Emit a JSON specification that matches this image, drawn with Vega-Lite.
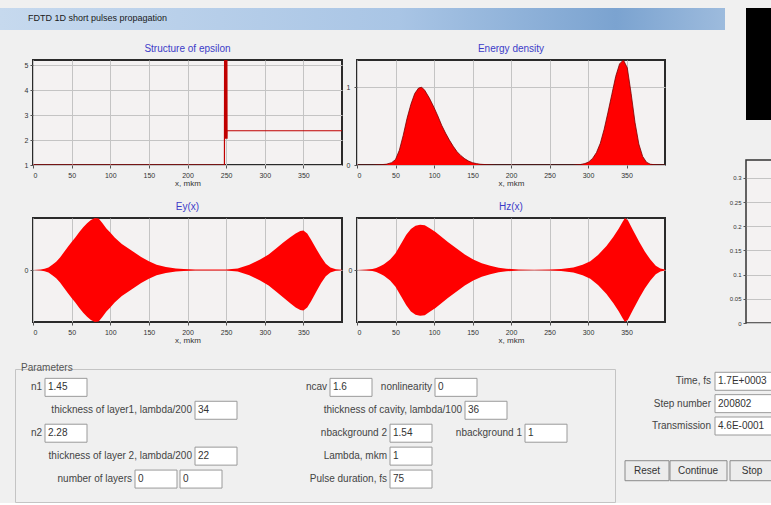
{
  "$schema": "https://vega.github.io/schema/vega-lite/v6.json",
  "background": "#f0f0f0",
  "padding": {"top": 8, "left": 0, "right": 0, "bottom": 0},
  "config": {
    "font": "Liberation Sans",
    "view": {"stroke": "#2a2a2a", "strokeWidth": 2, "fill": "#f4f2f2"},
    "axis": {"grid": true, "gridColor": "#c4c4c4", "gridWidth": 1, "domain": false, "tickColor": "#555555", "tickSize": 3, "labelFontSize": 7, "labelColor": "#333333", "labelPadding": 2, "titleFontSize": 8, "titleFontWeight": "normal", "titleColor": "#333333", "titlePadding": 1},
    "axisX": {"labelPadding": 3},
    "title": {"fontSize": 10, "color": "#3c3cc8", "fontWeight": "normal", "offset": 6}
  },
  "vconcat": [
    {
      "hconcat": [
        {
          "vconcat": [
            {
              "width": 725, "height": 22,
              "view": {"stroke": null, "fill": null},
              "title": {"text": "FDTD 1D short pulses propagation", "anchor": "start", "frame": "group", "offset": -15, "dx": 28, "fontSize": 9, "color": "#1a1a1a"},
              "data": {"values": [{}]},
              "mark": {"type": "rect", "color": {"gradient": "linear", "x1": 0, "y1": 0, "x2": 1, "y2": 0, "stops": [{"offset": 0, "color": "#c6d9ee"}, {"offset": 0.55, "color": "#a9c5e5"}, {"offset": 0.85, "color": "#7ba3d0"}, {"offset": 1, "color": "#9dbbdd"}]}}
            },
            {
              "hconcat": [
                {"width": 18, "height": 105, "view": {"stroke": null, "fill": null}, "data": {"values": []}, "mark": "point"},
                {
                  "width": 309, "height": 105,
                  "title": "Structure of epsilon",
                  "data": {"values": [
                    {"x": 0, "eps": 1}, {"x": 247.8, "eps": 1}, {"x": 248, "eps": 5.2}, {"x": 248.5, "eps": 2.05}, {"x": 249, "eps": 5.2}, {"x": 249.5, "eps": 2.05}, {"x": 250, "eps": 5.2}, {"x": 250.5, "eps": 2.05}, {"x": 251, "eps": 5.2}, {"x": 251.2, "eps": 2.05}, {"x": 251.3, "eps": 2.37}, {"x": 400, "eps": 2.37}
                  ]},
                  "mark": {"type": "line", "color": "#c00000", "strokeWidth": 1.2, "clip": true},
                  "encoding": {
                    "x": {"field": "x", "type": "quantitative", "scale": {"domain": [0, 400], "nice": false}, "axis": {"values": [0, 50, 100, 150, 200, 250, 300, 350], "title": "x, mkm"}},
                    "y": {"field": "eps", "type": "quantitative", "scale": {"domain": [1, 5.2], "nice": false, "zero": false}, "axis": {"values": [1, 2, 3, 4, 5], "title": null}}
                  }
                },
                {
                  "width": 308, "height": 105,
                  "title": "Energy density",
                  "data": {"values": [
                    {"x": 0, "w": 0}, {"x": 20, "w": 0}, {"x": 30, "w": 0.003}, {"x": 38, "w": 0.01}, {"x": 45, "w": 0.03}, {"x": 50, "w": 0.07}, {"x": 55, "w": 0.19}, {"x": 60, "w": 0.38}, {"x": 65, "w": 0.6}, {"x": 70, "w": 0.78}, {"x": 75, "w": 0.92}, {"x": 80, "w": 0.99}, {"x": 84, "w": 1.0}, {"x": 88, "w": 0.96}, {"x": 94, "w": 0.86}, {"x": 100, "w": 0.74}, {"x": 105, "w": 0.63}, {"x": 110, "w": 0.51}, {"x": 115, "w": 0.41}, {"x": 120, "w": 0.32}, {"x": 125, "w": 0.24}, {"x": 130, "w": 0.17}, {"x": 135, "w": 0.12}, {"x": 140, "w": 0.08}, {"x": 145, "w": 0.05}, {"x": 150, "w": 0.03}, {"x": 155, "w": 0.018}, {"x": 160, "w": 0.01}, {"x": 170, "w": 0.003}, {"x": 180, "w": 0}, {"x": 280, "w": 0}, {"x": 290, "w": 0.006}, {"x": 296, "w": 0.018}, {"x": 301, "w": 0.04}, {"x": 306, "w": 0.085}, {"x": 311, "w": 0.16}, {"x": 316, "w": 0.28}, {"x": 321, "w": 0.46}, {"x": 326, "w": 0.68}, {"x": 331, "w": 0.91}, {"x": 336, "w": 1.14}, {"x": 341, "w": 1.3}, {"x": 346, "w": 1.35}, {"x": 351, "w": 1.25}, {"x": 356, "w": 0.92}, {"x": 361, "w": 0.55}, {"x": 366, "w": 0.27}, {"x": 371, "w": 0.11}, {"x": 376, "w": 0.035}, {"x": 381, "w": 0.01}, {"x": 388, "w": 0.002}, {"x": 400, "w": 0}
                  ]},
                  "mark": {"type": "area", "color": "#ff0000", "opacity": 1, "fillOpacity": 1, "line": {"color": "#7a0000", "strokeWidth": 0.8}, "clip": true},
                  "encoding": {
                    "x": {"field": "x", "type": "quantitative", "scale": {"domain": [0, 400], "nice": false}, "axis": {"values": [0, 50, 100, 150, 200, 250, 300, 350], "title": "x, mkm"}},
                    "y": {"field": "w", "type": "quantitative", "scale": {"domain": [0, 1.35], "nice": false}, "axis": {"values": [0, 1], "format": "d", "title": null, "labelPadding": 4}}
                  }
                }
              ],
              "spacing": 15, "bounds": "flush"
            },
            {
              "hconcat": [
                {"width": 18, "height": 104, "view": {"stroke": null, "fill": null}, "data": {"values": []}, "mark": "point"},
                {
                  "width": 309, "height": 104,
                  "title": "Ey(x)",
                  "data": {"values": [
                    {"x": 0, "top": 0.002, "bot": -0.002}, {"x": 5, "top": 0.005, "bot": -0.005}, {"x": 10, "top": 0.012, "bot": -0.012}, {"x": 15, "top": 0.025, "bot": -0.025}, {"x": 20, "top": 0.05, "bot": -0.05}, {"x": 25, "top": 0.1, "bot": -0.1}, {"x": 30, "top": 0.16, "bot": -0.16}, {"x": 35, "top": 0.24, "bot": -0.24}, {"x": 40, "top": 0.34, "bot": -0.34}, {"x": 45, "top": 0.44, "bot": -0.44}, {"x": 50, "top": 0.54, "bot": -0.54}, {"x": 55, "top": 0.63, "bot": -0.63}, {"x": 60, "top": 0.73, "bot": -0.73}, {"x": 65, "top": 0.82, "bot": -0.82}, {"x": 70, "top": 0.9, "bot": -0.9}, {"x": 75, "top": 0.96, "bot": -0.96}, {"x": 80, "top": 1.0, "bot": -1.0}, {"x": 85, "top": 0.99, "bot": -0.99}, {"x": 90, "top": 0.9, "bot": -0.9}, {"x": 95, "top": 0.8, "bot": -0.8}, {"x": 100, "top": 0.72, "bot": -0.72}, {"x": 106, "top": 0.62, "bot": -0.62}, {"x": 115, "top": 0.5, "bot": -0.5}, {"x": 128, "top": 0.37, "bot": -0.37}, {"x": 140, "top": 0.25, "bot": -0.25}, {"x": 150, "top": 0.17, "bot": -0.17}, {"x": 160, "top": 0.1, "bot": -0.1}, {"x": 172, "top": 0.06, "bot": -0.06}, {"x": 185, "top": 0.03, "bot": -0.03}, {"x": 195, "top": 0.02, "bot": -0.02}, {"x": 210, "top": 0.012, "bot": -0.012}, {"x": 230, "top": 0.008, "bot": -0.008}, {"x": 250, "top": 0.012, "bot": -0.012}, {"x": 265, "top": 0.03, "bot": -0.03}, {"x": 280, "top": 0.1, "bot": -0.1}, {"x": 294, "top": 0.2, "bot": -0.2}, {"x": 305, "top": 0.3, "bot": -0.3}, {"x": 315, "top": 0.42, "bot": -0.42}, {"x": 324, "top": 0.53, "bot": -0.53}, {"x": 333, "top": 0.63, "bot": -0.64}, {"x": 340, "top": 0.7, "bot": -0.72}, {"x": 346, "top": 0.75, "bot": -0.77}, {"x": 350, "top": 0.76, "bot": -0.78}, {"x": 355, "top": 0.7, "bot": -0.72}, {"x": 360, "top": 0.58, "bot": -0.6}, {"x": 367, "top": 0.4, "bot": -0.41}, {"x": 373, "top": 0.25, "bot": -0.25}, {"x": 379, "top": 0.12, "bot": -0.12}, {"x": 385, "top": 0.05, "bot": -0.05}, {"x": 392, "top": 0.015, "bot": -0.015}, {"x": 400, "top": 0.005, "bot": -0.005}
                  ]},
                  "mark": {"type": "area", "color": "#ff0000", "opacity": 1, "clip": true},
                  "encoding": {
                    "x": {"field": "x", "type": "quantitative", "scale": {"domain": [0, 400], "nice": false}, "axis": {"values": [0, 50, 100, 150, 200, 250, 300, 350], "title": "x, mkm"}},
                    "y": {"field": "top", "type": "quantitative", "scale": {"domain": [-1, 1], "nice": false}, "axis": {"values": [0], "title": null}},
                    "y2": {"field": "bot"}
                  }
                },
                {
                  "width": 308, "height": 104,
                  "title": "Hz(x)",
                  "data": {"values": [
                    {"x": 0, "top": 0.002, "bot": -0.002}, {"x": 12, "top": 0.008, "bot": -0.008}, {"x": 20, "top": 0.02, "bot": -0.02}, {"x": 25, "top": 0.04, "bot": -0.04}, {"x": 30, "top": 0.07, "bot": -0.07}, {"x": 35, "top": 0.11, "bot": -0.11}, {"x": 43, "top": 0.2, "bot": -0.2}, {"x": 50, "top": 0.32, "bot": -0.32}, {"x": 57, "top": 0.5, "bot": -0.5}, {"x": 64, "top": 0.68, "bot": -0.68}, {"x": 70, "top": 0.79, "bot": -0.8}, {"x": 76, "top": 0.85, "bot": -0.86}, {"x": 82, "top": 0.87, "bot": -0.88}, {"x": 88, "top": 0.86, "bot": -0.87}, {"x": 95, "top": 0.8, "bot": -0.8}, {"x": 102, "top": 0.73, "bot": -0.73}, {"x": 108, "top": 0.66, "bot": -0.66}, {"x": 118, "top": 0.54, "bot": -0.54}, {"x": 129, "top": 0.42, "bot": -0.42}, {"x": 140, "top": 0.3, "bot": -0.3}, {"x": 151, "top": 0.2, "bot": -0.2}, {"x": 162, "top": 0.13, "bot": -0.13}, {"x": 173, "top": 0.08, "bot": -0.08}, {"x": 184, "top": 0.045, "bot": -0.045}, {"x": 194, "top": 0.025, "bot": -0.025}, {"x": 210, "top": 0.012, "bot": -0.012}, {"x": 230, "top": 0.007, "bot": -0.007}, {"x": 250, "top": 0.01, "bot": -0.01}, {"x": 265, "top": 0.02, "bot": -0.02}, {"x": 281, "top": 0.05, "bot": -0.05}, {"x": 293, "top": 0.1, "bot": -0.1}, {"x": 303, "top": 0.17, "bot": -0.17}, {"x": 313, "top": 0.29, "bot": -0.29}, {"x": 324, "top": 0.46, "bot": -0.46}, {"x": 333, "top": 0.64, "bot": -0.64}, {"x": 340, "top": 0.8, "bot": -0.8}, {"x": 345, "top": 0.93, "bot": -0.93}, {"x": 348, "top": 1.0, "bot": -1.0}, {"x": 352, "top": 0.95, "bot": -0.95}, {"x": 358, "top": 0.78, "bot": -0.78}, {"x": 367, "top": 0.53, "bot": -0.53}, {"x": 374, "top": 0.35, "bot": -0.35}, {"x": 381, "top": 0.2, "bot": -0.2}, {"x": 388, "top": 0.08, "bot": -0.08}, {"x": 394, "top": 0.03, "bot": -0.03}, {"x": 400, "top": 0.01, "bot": -0.01}
                  ]},
                  "mark": {"type": "area", "color": "#ff0000", "opacity": 1, "clip": true},
                  "encoding": {
                    "x": {"field": "x", "type": "quantitative", "scale": {"domain": [0, 400], "nice": false}, "axis": {"values": [0, 50, 100, 150, 200, 250, 300, 350], "title": "x, mkm"}},
                    "y": {"field": "top", "type": "quantitative", "scale": {"domain": [-1, 1], "nice": false}, "axis": {"values": [0], "title": null}},
                    "y2": {"field": "bot"}
                  }
                }
              ],
              "spacing": 15, "bounds": "flush"
            }
          ],
          "spacing": 13
        },
        {
          "vconcat": [
            {"width": 26, "height": 112, "view": {"stroke": null, "fill": "#000000"}, "data": {"values": []}, "mark": "point"},
            {
              "width": 26, "height": 163,
              "view": {"stroke": "#333333", "strokeWidth": 1.5, "fill": "#f4f2f2"},
              "data": {"values": [{"t": 0, "v": 0}]},
              "mark": {"type": "point", "opacity": 0},
              "encoding": {
                "y": {"field": "v", "type": "quantitative", "scale": {"domain": [0, 0.337], "nice": false}, "axis": {"values": [0, 0.05, 0.1, 0.15, 0.2, 0.25, 0.3], "format": ".2~f", "title": null, "labelFontSize": 6}}
              }
            }
          ],
          "spacing": 40, "bounds": "flush"
        }
      ],
      "spacing": 3
    },
    {
      "hconcat": [
        {"width": 5, "height": 133, "view": {"stroke": null, "fill": null}, "data": {"values": []}, "mark": "point"},
        {
          "width": 600, "height": 133,
          "view": {"stroke": "#c4c4c4", "strokeWidth": 1, "fill": null},
          "title": {"text": "Parameters", "anchor": "start", "frame": "group", "offset": -4, "dx": 6, "fontSize": 10, "color": "#555555"},
          "data": {"values": [
            {"label": "n1", "value": "1.45", "col": 2, "row": 1},
            {"label": "thickness of layer1, lambda/200", "value": "34", "col": 12, "row": 2},
            {"label": "n2", "value": "2.28", "col": 2, "row": 3},
            {"label": "thickness of layer 2, lambda/200", "value": "22", "col": 12, "row": 4},
            {"label": "number of layers", "value": "0", "col": 8, "row": 5},
            {"label": "", "value": "0", "col": 11, "row": 5},
            {"label": "ncav", "value": "1.6", "col": 21, "row": 1},
            {"label": "nonlinearity", "value": "0", "col": 28, "row": 1},
            {"label": "thickness of cavity, lambda/100", "value": "36", "col": 30, "row": 2},
            {"label": "nbackground 2", "value": "1.54", "col": 25, "row": 3},
            {"label": "nbackground 1", "value": "1", "col": 34, "row": 3},
            {"label": "Lambda, mkm", "value": "1", "col": 25, "row": 4},
            {"label": "Pulse duration, fs", "value": "75", "col": 25, "row": 5}
          ]},
          "encoding": {
            "x": {"field": "col", "type": "quantitative", "scale": {"domain": [0, 40], "nice": false, "zero": false}, "axis": null},
            "y": {"field": "row", "type": "quantitative", "scale": {"domain": [0.2, 6], "nice": false, "zero": false, "reverse": true}, "axis": null}
          },
          "layer": [
            {"mark": {"type": "point", "shape": "M0,-0.45H2.1V0.45H0Z", "size": 1600, "filled": true, "fill": "#ffffff", "stroke": "#9a9a9a", "strokeWidth": 1, "opacity": 1}},
            {"mark": {"type": "text", "align": "right", "dx": -3, "fontSize": 10, "color": "#444444"}, "encoding": {"text": {"field": "label"}}},
            {"mark": {"type": "text", "align": "left", "dx": 3, "fontSize": 10, "color": "#333333"}, "encoding": {"text": {"field": "value"}}}
          ]
        },
        {
          "width": 146, "height": 133,
          "view": {"stroke": null, "fill": null},
          "layer": [
            {
              "data": {"values": [
                {"label": "Time, fs", "value": "1.7E+0003", "col": 6, "row": 1},
                {"label": "Step number", "value": "200802", "col": 6, "row": 2},
                {"label": "Transmission", "value": "4.6E-0001", "col": 6, "row": 3}
              ]},
              "encoding": {
                "x": {"field": "col", "type": "quantitative", "scale": {"domain": [0, 9.733], "nice": false, "zero": false}, "axis": null},
                "y": {"field": "row", "type": "quantitative", "scale": {"domain": [0.45, 6.4], "nice": false, "zero": false, "reverse": true}, "axis": null}
              },
              "layer": [
                {"mark": {"type": "point", "shape": "M0,-0.45H3V0.45H0Z", "size": 1600, "filled": true, "fill": "#ffffff", "stroke": "#9a9a9a", "strokeWidth": 1, "opacity": 1}},
                {"mark": {"type": "text", "align": "right", "dx": -4, "fontSize": 10, "color": "#444444"}, "encoding": {"text": {"field": "label"}}},
                {"mark": {"type": "text", "align": "left", "dx": 3, "fontSize": 10, "color": "#333333"}, "encoding": {"text": {"field": "value"}}}
              ]
            },
            {
              "data": {"values": [
                {"button": "Reset", "col": 0, "row": 5},
                {"button": "Continue", "col": 3, "row": 5},
                {"button": "Stop", "col": 7, "row": 5}
              ]},
              "encoding": {
                "x": {"field": "col", "type": "quantitative", "axis": null},
                "y": {"field": "row", "type": "quantitative", "axis": null}
              },
              "layer": [
                {"transform": [{"filter": "datum.button != 'Continue'"}], "mark": {"type": "point", "shape": "M0,-0.5H2.2V0.5H0Z", "size": 1600, "filled": true, "fill": "#ececec", "stroke": "#8a8a8a", "strokeWidth": 1, "opacity": 1}},
                {"transform": [{"filter": "datum.button == 'Continue'"}], "mark": {"type": "point", "shape": "M0,-0.5H2.85V0.5H0Z", "size": 1600, "filled": true, "fill": "#ececec", "stroke": "#8a8a8a", "strokeWidth": 1, "opacity": 1}},
                {"transform": [{"filter": "datum.button != 'Continue'"}], "mark": {"type": "text", "align": "center", "dx": 22, "fontSize": 10, "color": "#333333"}, "encoding": {"text": {"field": "button"}}},
                {"transform": [{"filter": "datum.button == 'Continue'"}], "mark": {"type": "text", "align": "center", "dx": 28, "fontSize": 10, "color": "#333333"}, "encoding": {"text": {"field": "button"}}}
              ]
            }
          ]
        }
      ],
      "spacing": 10, "bounds": "flush"
    }
  ],
  "spacing": 17
}
